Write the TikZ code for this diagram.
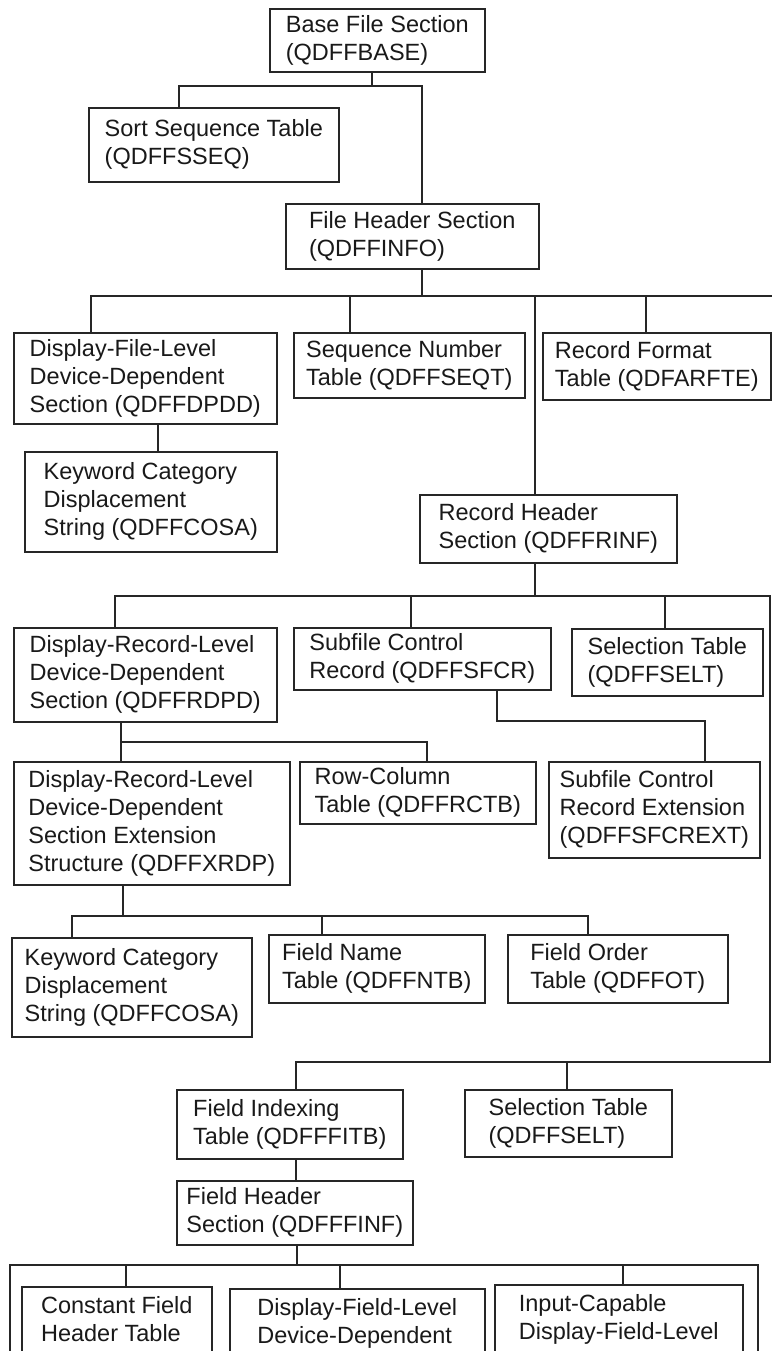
\documentclass[tikz,border=0pt]{standalone}
\usepackage{fontspec}
\setmainfont{Liberation Sans}
\usepackage{tikz}

\begin{document}
\begin{tikzpicture}[x=1pt,y=-1pt]
\tikzstyle{every node}+=[inner sep=0pt]
\tikzstyle{tbl}=[draw=black!85, line width=1.6pt, anchor=north west, align=left, inner xsep=7pt, inner ysep=4pt, text=black!90, font=\fontsize{23.5}{28}\selectfont]
\tikzstyle{cut}=[tbl, text depth=80pt, inner ysep=10pt]
\tikzstyle{link}=[draw=black!85, line width=1.6pt]
\useasboundingbox (0,0) rectangle (772,1351);
\clip (0,0) rectangle (772,1351);
% file level
\node [tbl, minimum width=215, minimum height=63] (base) at (269,8) {Base File Section\\(QDFFBASE)};
\node [tbl, minimum width=250, minimum height=74] (sort) at (88,107) {Sort Sequence Table\\(QDFFSSEQ)};
\node [tbl, minimum width=253, minimum height=65] (fhs) at (285,203) {File Header Section\\(QDFFINFO)};
\node [tbl, minimum width=263, minimum height=91] (dfl) at (13,332) {Display-File-Level\\Device-Dependent\\Section (QDFFDPDD)};
\node [tbl, minimum width=252, minimum height=100] (kcda) at (24,451) {Keyword Category\\Displacement\\String (QDFFCOSA)};
\node [tbl, minimum width=231, minimum height=65] (seqt) at (293,332) {Sequence Number\\Table (QDFFSEQT)};
\node [tbl, minimum width=228, minimum height=67] (rft) at (542,332) {Record Format\\Table (QDFARFTE)};
% record level
\node [tbl, minimum width=257, minimum height=68] (rhs) at (419,494) {Record Header\\Section (QDFFRINF)};
\node [tbl, minimum width=263, minimum height=94] (drl) at (13,627) {Display-Record-Level\\Device-Dependent\\Section (QDFFRDPD)};
\node [tbl, minimum width=257, minimum height=62] (sfcr) at (293,627) {Subfile Control\\Record (QDFFSFCR)};
\node [tbl, minimum width=191, minimum height=67] (selta) at (571,628) {Selection Table\\(QDFFSELT)};
\node [tbl, minimum width=211, minimum height=96] (sfcx) at (548,761) {Subfile Control\\Record Extension\\(QDFFSFCREXT)};
\node [tbl, minimum width=276, minimum height=123] (drlx) at (13,761) {Display-Record-Level\\Device-Dependent\\Section Extension\\Structure (QDFFXRDP)};
\node [tbl, minimum width=236, minimum height=62] (rctb) at (299,761) {Row-Column\\Table (QDFFRCTB)};
\node [tbl, minimum width=240, minimum height=99] (kcdb) at (11,937) {Keyword Category\\Displacement\\String (QDFFCOSA)};
\node [tbl, minimum width=216, minimum height=68] (fntb) at (268,934) {Field Name\\Table (QDFFNTB)};
\node [tbl, minimum width=220, minimum height=68] (fot) at (507,934) {Field Order\\Table (QDFFOT)};
% field level
\node [tbl, minimum width=226, minimum height=69] (fitb) at (176,1089) {Field Indexing\\Table (QDFFFITB)};
\node [tbl, minimum width=207, minimum height=67] (seltb) at (464,1089) {Selection Table\\(QDFFSELT)};
\node [tbl, minimum width=236, minimum height=64] (ffinf) at (176,1180) {Field Header\\Section (QDFFFINF)};
\node [cut, minimum width=190] (cfht) at (21,1286) {Constant Field\\Header Table};
\node [cut, minimum width=255] (dfld) at (229,1288) {Display-Field-Level\\Device-Dependent};
\node [cut, minimum width=248] (icd) at (494,1284) {Input-Capable\\Display-Field-Level};
\coordinate (fend) at (772,296);
\coordinate (botl) at (10,1360);
\coordinate (botr) at (758,1360);
% connectors
\draw [link] (base.south -| 372,0) -- (372,86);
\draw [link] (sort.north -| 179,0) |- (372,86) -| (fhs.north -| 422,0);
\draw [link] (fhs.south -| 422,0) -- (422,296);
\draw [link] (dfl.north -| 91,0) |- (fend);
\draw [link] (seqt.north -| 350,0) -- (350,296);
\draw [link] (rhs.north -| 535,0) -- (535,296);
\draw [link] (rft.north -| 646,0) -- (646,296);
\draw [link] (dfl.south -| 158,0) -- (kcda.north -| 158,0);
\draw [link] (rhs.south -| 535,0) -- (535,596);
\draw [link] (drl.north -| 115,0) |- (770,596) -- (770,1062) -| (fitb.north -| 296,0);
\draw [link] (sfcr.north -| 411,0) -- (411,596);
\draw [link] (selta.north -| 665,0) -- (665,596);
\draw [link] (sfcr.south -| 497,0) -- (497,721) -| (sfcx.north -| 705,0);
\draw [link] (drl.south -| 121,0) -- (drlx.north -| 121,0);
\draw [link] (121,742) -| (rctb.north -| 427,0);
\draw [link] (drlx.south -| 123,0) -- (123,916);
\draw [link] (kcdb.north -| 72,0) |- (588,916) -- (fot.north -| 588,0);
\draw [link] (fntb.north -| 322,0) -- (322,916);
\draw [link] (seltb.north -| 567,0) -- (567,1062);
\draw [link] (fitb.south -| 296,0) -- (ffinf.north -| 296,0);
\draw [link] (ffinf.south -| 297,0) -- (297,1265);
\draw [link] (botl) |- (758,1265) -- (botr);
\draw [link] (cfht.north -| 126,0) -- (126,1265);
\draw [link] (dfld.north -| 340,0) -- (340,1265);
\draw [link] (icd.north -| 623,0) -- (623,1265);
\end{tikzpicture}
\end{document}
